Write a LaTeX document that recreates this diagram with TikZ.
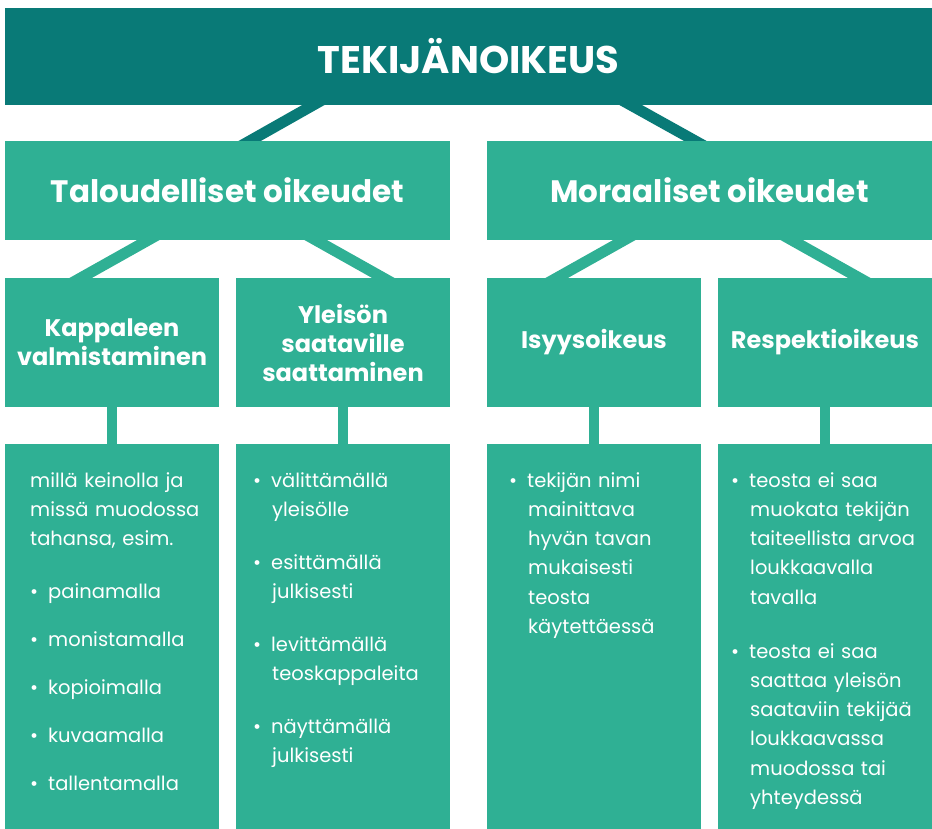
\documentclass[tikz,border=0pt]{standalone}
\usepackage{fontspec}
\setmainfont{Poppins}
\usetikzlibrary{backgrounds}
\definecolor{tealdark}{HTML}{097A77}
\definecolor{tealmint}{HTML}{2FB094}
\newcommand\bul{\hangindent=19pt\hangafter=1\noindent\makebox[18pt][l]{\textbullet}}
\newcommand\gap[1]{\par\vspace{#1}}

\begin{document}
\begin{tikzpicture}[x=1pt,y=-1pt,
  box/.style n args={3}{fill=#1,minimum width=#2pt,minimum height=#3pt,inner sep=0pt,text=white,align=center},
  txt/.style={anchor=base west,inner sep=0pt,text=white,text width=#1pt,align=left,font=\fontsize{19.5}{29.3}\selectfont},
  link/.style={#1,line width=11pt,shorten <=-12pt,shorten >=-12pt},
  stub/.style={tealmint,line width=10pt}]
\useasboundingbox (0,0) rectangle (932,829);
% otsikko
\node[box={tealdark}{927}{97},font=\fontsize{38.5}{44}\selectfont\bfseries] (top) at (468.5,56.5) {TEKIJÄNOIKEUS};
% oikeuksien ryhmät
\node[box={tealmint}{445}{99},font=\fontsize{31}{36}\selectfont\bfseries] (tal) at (227.5,190.5) {Taloudelliset oikeudet};
\node[box={tealmint}{445}{99},font=\fontsize{31}{36}\selectfont\bfseries] (mor) at (709.5,190.5) {Moraaliset oikeudet};
% oikeudet
\tikzset{sub/.style={box={tealmint}{214}{129},font=\fontsize{24}{29}\selectfont\bfseries}}
\node[sub] (kap) at (112,342.5) {Kappaleen\\valmistaminen};
\node[sub] (yle) at (343,342.5) {Yleisön\\saataville\\saattaminen};
\node[sub] (isy) at (594,342.5) {Isyysoikeus};
\node[sub] (res) at (825,342.5) {Respektioikeus};
\foreach \n/\x in {kap/112,yle/343,isy/594,res/825}
  \node[box={tealmint}{214}{385}] (\n-b) at (\x,636.5) {};
% sisältö
\node[txt=185] (kap-t) at (30,487) {\noindent millä keinolla ja\\missä muodossa\\tahansa, esim.\gap{23.7pt}%
  \bul painamalla\gap{18.7pt}\bul monistamalla\gap{18.7pt}\bul kopioimalla\gap{18.7pt}%
  \bul kuvaamalla\gap{18.7pt}\bul tallentamalla\par};
\node[txt=190] (yle-t) at (253,487) {\bul välittämällä\newline yleisölle\gap{23.5pt}\bul esittämällä\newline julkisesti\gap{23.5pt}%
  \bul levittämällä\newline teoskappaleita\gap{23.5pt}\bul näyttämällä\newline julkisesti\par};
\node[txt=185] (isy-t) at (509,487) {\bul tekijän nimi\newline mainittava\newline hyvän tavan\newline mukaisesti\newline teosta\newline käytettäessä\par};
\node[txt=195] (res-t) at (731,487) {\bul teosta ei saa\newline muokata tekijän\newline taiteellista arvoa\newline loukkaavalla\newline tavalla\gap{24.5pt}%
  \bul teosta ei saa\newline saattaa yleisön\newline saataviin tekijää\newline loukkaavassa\newline muodossa tai\newline yhteydessä\par};
% yhteydet
\begin{scope}[on background layer]
\draw[link=tealdark] ([xshift=-155.5pt]top.south) -- ([xshift=22.5pt]tal.north);
\draw[link=tealdark] ([xshift=162.5pt]top.south) -- ([xshift=-14.5pt]mor.north);
\draw[link=tealmint] ([xshift=-79.5pt]tal.south) -- ([xshift=-31pt]kap.north);
\draw[link=tealmint] ([xshift=88.5pt]tal.south) -- ([xshift=40pt]yle.north);
\draw[link=tealmint] ([xshift=-85.5pt]mor.south) -- ([xshift=-37pt]isy.north);
\draw[link=tealmint] ([xshift=82.5pt]mor.south) -- ([xshift=34pt]res.north);
\foreach \n in {kap,yle,isy,res}
  \draw[stub] (\n.south) -- (\n-b.north);
\end{scope}
\end{tikzpicture}
\end{document}
